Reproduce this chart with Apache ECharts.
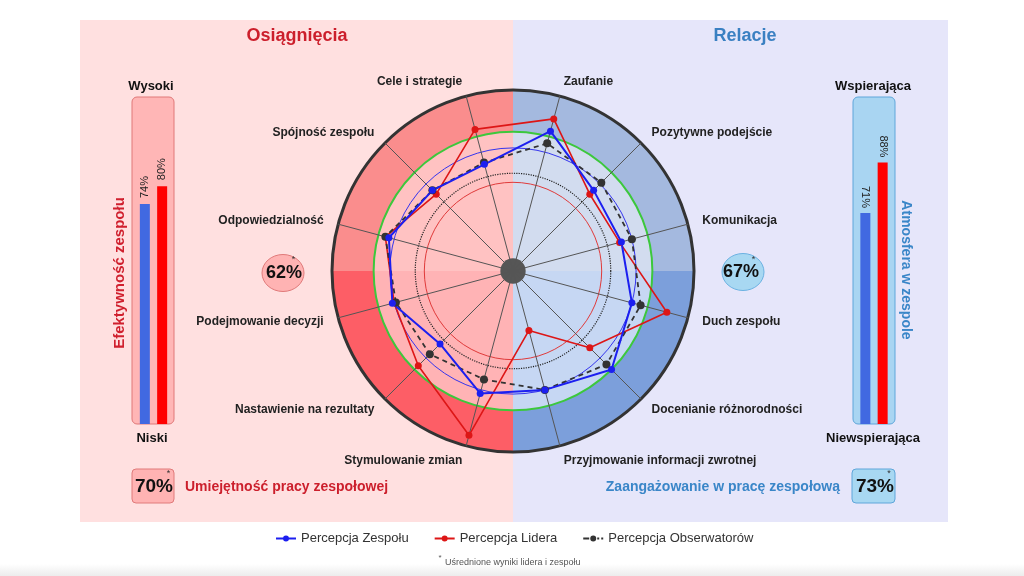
<!DOCTYPE html>
<html><head><meta charset="utf-8">
<script src="https://cdn.jsdelivr.net/npm/echarts@6/dist/echarts.min.js"></script>
<style>html,body{margin:0;padding:0;background:#fff;}#c{width:1024px;height:576px;}</style>
</head><body><div id="c"></div>
<script>
// ---------- DATA ----------
const indicatorNames = ['Zaufanie','Cele i strategie','Spójność zespołu','Odpowiedzialność','Podejmowanie decyzji','Nastawienie na rezultaty','Stymulowanie zmian','Przyjmowanie informacji zwrotnej','Docenianie różnorodności','Duch zespołu','Komunikacja','Pozytywne podejście'];
const teamValues     = [80, 61, 63, 71, 69, 57, 70, 68, 77, 68, 62, 63];
const leaderValues   = [87, 81, 60, 73, 68, 74, 94, 34, 60, 88, 61, 60];
const observerValues = [73, 62, 63, 73, 67, 65, 62, 68, 73, 73, 68, 69];
const seriesNames = ['Percepcja Zespołu','Percepcja Lidera','Percepcja Obserwatorów'];
const quadrants = ['Relacje (góra)','Relacje (dół)','Osiągnięcia (dół)','Osiągnięcia (góra)'];
const innerZone = [77, 77, 77, 77];
const outerZone = [23, 23, 23, 23];
const hubValues = [7, 7, 7, 7];
const greenRing = 77, teamRing = 68, observerRing = 54, leaderRing = 49;
const effectivenessValues = [74, 80];
const atmosphereValues = [71, 88];
const badgeValues = ['62%', '67%', '70%', '73%'];

// ---------- STYLE ----------
const FONT = 'Liberation Sans, Arial, sans-serif';
const CX = 513, CY = 271, R = 181;
const innerColors = ['#d2dcef', '#c6d7f3', '#ffb3b5', '#ffc2c2'];
const outerColors = ['#a4b9df', '#7c9fdb', '#fd5e66', '#fa8d8d'];
const BLUE = '#1c1ff0', RED = '#dd1616', DARK = '#333333';

function ringColors(rings) {
  const arr = [];
  for (let i = 0; i <= 100; i++) arr.push('rgba(0,0,0,0)');
  rings.forEach(function (r) { arr[Math.round(r[0])] = r[1]; });
  return arr;
}
function ringRadar(rings, lineStyle) {
  return {
    center: [CX, CY], radius: R, startAngle: 75, shape: 'circle', splitNumber: 100,
    indicator: indicatorNames.map(function () { return { name: '', min: 0, max: 100 }; }),
    axisName: { show: false }, axisLine: { show: false }, axisTick: { show: false }, axisLabel: { show: false },
    splitArea: { show: false },
    splitLine: { show: true, lineStyle: Object.assign({ color: ringColors(rings) }, lineStyle) },
    z: 2
  };
}
const iconSolid = 'path://M0,2h20v2h-20z M10,0a3,3,0,1,1,-0.001,0z';
const iconDash = 'path://M0,2h6v2h-6z M10,0a3,3,0,1,1,-0.001,0z M14,2h2v2h-2z M18,2h2v2h-2z';

const leftLabel = { show: true, position: 'top', rotate: 90, align: 'left', verticalAlign: 'middle', distance: 6, formatter: '{c}%', fontSize: 11, color: '#222', fontFamily: FONT };
const rightLabel = { show: true, position: 'top', rotate: -90, align: 'right', verticalAlign: 'middle', distance: 5, formatter: '{c}%', fontSize: 11, color: '#222', fontFamily: FONT };

const chart = echarts.init(document.getElementById('c'), null, { width: 1024, height: 576 });
const option = {
  backgroundColor: '#ffffff',
  animation: false,
  textStyle: { fontFamily: FONT },
  polar: { center: [CX, CY], radius: R },
  angleAxis: {
    type: 'category', data: quadrants, startAngle: 90, clockwise: true, boundaryGap: true,
    axisLine: { show: true, lineStyle: { color: '#333', width: 3 } },
    axisTick: { show: false }, axisLabel: { show: false }, splitLine: { show: false }, z: 2
  },
  radiusAxis: { type: 'value', min: 0, max: 100, show: false },
  radar: [
    {
      center: [CX, CY], radius: R, startAngle: 75, shape: 'circle', splitNumber: 4,
      indicator: indicatorNames.map(function (n) { return { name: n, min: 0, max: 100 }; }),
      nameGap: 15,
      axisName: { color: '#222', fontSize: 12, fontWeight: 'bold', fontFamily: FONT },
      axisLine: { show: true, lineStyle: { color: '#555', width: 1 } },
      splitLine: { show: false }, splitArea: { show: false }, z: 2
    },
    ringRadar([[greenRing, '#3cc83c']], { width: 2 }),
    ringRadar([[teamRing, '#3535ee'], [leaderRing, '#e03a3a']], { width: 1 }),
    ringRadar([[observerRing, '#222']], { width: 1.2, type: 'dotted' })
  ],
  grid: [
    { left: 132.5, top: 97, width: 42, height: 327 },
    { left: 853, top: 97, width: 42, height: 327 }
  ],
  xAxis: [
    { type: 'category', gridIndex: 0, data: ['Efektywność zespołu'], show: false },
    { type: 'category', gridIndex: 1, data: ['Atmosfera w zespole'], show: false }
  ],
  yAxis: [
    { type: 'value', gridIndex: 0, min: 0, max: 110, show: false },
    { type: 'value', gridIndex: 1, min: 0, max: 110, show: false }
  ],
  legend: {
    left: 271, top: 527, itemWidth: 20, itemHeight: 6, itemGap: 26, selectedMode: false,
    textStyle: { fontSize: 13, color: '#333', fontFamily: FONT },
    itemStyle: { borderWidth: 0 },
    data: [
      { name: seriesNames[0], icon: iconSolid },
      { name: seriesNames[1], icon: iconSolid },
      { name: seriesNames[2], icon: iconDash }
    ]
  },
  series: [
    { type: 'bar', coordinateSystem: 'polar', stack: 'zone', barCategoryGap: '0%', barGap: '-100%', silent: true, z: 0,
      data: innerZone.map(function (v, i) { return { value: v, itemStyle: { color: innerColors[i] } }; }) },
    { type: 'bar', coordinateSystem: 'polar', stack: 'zone', barCategoryGap: '0%', barGap: '-100%', silent: true, z: 0,
      data: outerZone.map(function (v, i) { return { value: v, itemStyle: { color: outerColors[i] } }; }) },
    { type: 'bar', coordinateSystem: 'polar', barCategoryGap: '0%', barGap: '-100%', silent: true, z: 1,
      itemStyle: { color: '#565656' }, data: hubValues },

    { type: 'radar', radarIndex: 0, name: seriesNames[1], z: 4, symbol: 'circle', symbolSize: 7,
      itemStyle: { color: RED }, lineStyle: { color: RED, width: 1.6 },
      data: [{ name: seriesNames[1], value: leaderValues }] },
    { type: 'radar', radarIndex: 0, name: seriesNames[2], z: 4, symbol: 'circle', symbolSize: 8,
      itemStyle: { color: DARK }, lineStyle: { color: DARK, width: 1.8, type: [5, 4] },
      data: [{ name: seriesNames[2], value: observerValues }] },
    { type: 'radar', radarIndex: 0, name: seriesNames[0], z: 4, symbol: 'circle', symbolSize: 7,
      itemStyle: { color: BLUE }, lineStyle: { color: BLUE, width: 2 },
      data: [{ name: seriesNames[0], value: teamValues }] },

    { type: 'bar', xAxisIndex: 0, yAxisIndex: 0, barWidth: 10, barGap: '73%', z: 3,
      itemStyle: { color: '#4169e1' }, label: leftLabel, data: [effectivenessValues[0]] },
    { type: 'bar', xAxisIndex: 0, yAxisIndex: 0, barWidth: 10, barGap: '73%', z: 3,
      itemStyle: { color: '#ff0000' }, label: leftLabel, data: [effectivenessValues[1]] },
    { type: 'bar', xAxisIndex: 1, yAxisIndex: 1, barWidth: 10, barGap: '73%', z: 3,
      itemStyle: { color: '#4169e1' }, label: rightLabel, data: [atmosphereValues[0]] },
    { type: 'bar', xAxisIndex: 1, yAxisIndex: 1, barWidth: 10, barGap: '73%', z: 3,
      itemStyle: { color: '#ff0000' }, label: rightLabel, data: [atmosphereValues[1]] }
  ],
  graphic: [
    { type: 'rect', z: -10, silent: true, shape: { x: 80, y: 20, width: 433, height: 502 }, style: { fill: '#ffe0e0' } },
    { type: 'rect', z: -10, silent: true, shape: { x: 513, y: 20, width: 435, height: 502 }, style: { fill: '#e6e6fa' } },
    { type: 'rect', z: -10, silent: true, shape: { x: 0, y: 564, width: 1024, height: 12 },
      style: { fill: new echarts.graphic.LinearGradient(0, 0, 0, 1, [{ offset: 0, color: '#ffffff' }, { offset: 1, color: '#ececec' }]) } },

    { type: 'text', z: 5, x: 297, y: 36, style: { text: 'Osiągnięcia', fill: '#cc1f2c', font: 'bold 18px ' + FONT, align: 'center', verticalAlign: 'middle' } },
    { type: 'text', z: 5, x: 745, y: 36, style: { text: 'Relacje', fill: '#3a80c2', font: 'bold 18px ' + FONT, align: 'center', verticalAlign: 'middle' } },

    // bar boxes
    { type: 'rect', z: 1, shape: { x: 132, y: 97, width: 42, height: 327, r: 5 }, style: { fill: '#ffb6b6', stroke: '#e07878', lineWidth: 1 } },
    { type: 'rect', z: 1, shape: { x: 853, y: 97, width: 42, height: 327, r: 5 }, style: { fill: '#a9d5f2', stroke: '#5fa6da', lineWidth: 1 } },
    { type: 'text', z: 5, x: 151, y: 86, style: { text: 'Wysoki', fill: '#111', font: 'bold 13px ' + FONT, align: 'center', verticalAlign: 'middle' } },
    { type: 'text', z: 5, x: 152, y: 438, style: { text: 'Niski', fill: '#111', font: 'bold 13px ' + FONT, align: 'center', verticalAlign: 'middle' } },
    { type: 'text', z: 5, x: 873, y: 86, style: { text: 'Wspierająca', fill: '#111', font: 'bold 13px ' + FONT, align: 'center', verticalAlign: 'middle' } },
    { type: 'text', z: 5, x: 873, y: 438, style: { text: 'Niewspierająca', fill: '#111', font: 'bold 13px ' + FONT, align: 'center', verticalAlign: 'middle' } },
    { type: 'text', z: 5, x: 120, y: 273, rotation: Math.PI / 2, style: { text: 'Efektywność zespołu', fill: '#d0202e', font: 'bold 15px ' + FONT, align: 'center', verticalAlign: 'middle' } },
    { type: 'text', z: 5, x: 906, y: 270, rotation: -Math.PI / 2, style: { text: 'Atmosfera w zespole', fill: '#3a86c8', font: 'bold 14px ' + FONT, align: 'center', verticalAlign: 'middle' } },

    // badges
    { type: 'ellipse', z: 3, shape: { cx: 283, cy: 273, rx: 21, ry: 18.5 }, style: { fill: '#ffb3b3', stroke: '#e07a7a', lineWidth: 1 } },
    { type: 'text', z: 5, x: 284, y: 273, style: { text: badgeValues[0], fill: '#111', font: 'bold 18px ' + FONT, align: 'center', verticalAlign: 'middle' } },
    { type: 'text', z: 5, x: 293.5, y: 260, style: { text: '*', fill: '#333', font: '9px ' + FONT, align: 'center', verticalAlign: 'middle' } },
    { type: 'ellipse', z: 3, shape: { cx: 743, cy: 272, rx: 21, ry: 18.5 }, style: { fill: '#a8d8f2', stroke: '#6cb2e2', lineWidth: 1 } },
    { type: 'text', z: 5, x: 741, y: 272, style: { text: badgeValues[1], fill: '#111', font: 'bold 18px ' + FONT, align: 'center', verticalAlign: 'middle' } },
    { type: 'text', z: 5, x: 753.5, y: 260, style: { text: '*', fill: '#333', font: '9px ' + FONT, align: 'center', verticalAlign: 'middle' } },

    { type: 'rect', z: 3, shape: { x: 132, y: 469, width: 42, height: 34, r: 4 }, style: { fill: '#ffb3b3', stroke: '#e07a7a', lineWidth: 1 } },
    { type: 'text', z: 5, x: 154, y: 486.5, style: { text: badgeValues[2], fill: '#111', font: 'bold 19px ' + FONT, align: 'center', verticalAlign: 'middle' } },
    { type: 'text', z: 5, x: 168.5, y: 474, style: { text: '*', fill: '#333', font: '9px ' + FONT, align: 'center', verticalAlign: 'middle' } },
    { type: 'text', z: 5, x: 185, y: 487, style: { text: 'Umiejętność pracy zespołowej', fill: '#cc1f2c', font: 'bold 14px ' + FONT, align: 'left', verticalAlign: 'middle' } },

    { type: 'rect', z: 3, shape: { x: 852, y: 469, width: 43, height: 34, r: 4 }, style: { fill: '#a8d8f2', stroke: '#5fa6da', lineWidth: 1 } },
    { type: 'text', z: 5, x: 875, y: 486.5, style: { text: badgeValues[3], fill: '#111', font: 'bold 19px ' + FONT, align: 'center', verticalAlign: 'middle' } },
    { type: 'text', z: 5, x: 889, y: 474, style: { text: '*', fill: '#333', font: '9px ' + FONT, align: 'center', verticalAlign: 'middle' } },
    { type: 'text', z: 5, x: 840, y: 487, style: { text: 'Zaangażowanie w pracę zespołową', fill: '#3a86c8', font: 'bold 14px ' + FONT, align: 'right', verticalAlign: 'middle' } },

    // footnote
    { type: 'text', z: 5, x: 440, y: 558, style: { text: '*', fill: '#555', font: '8px ' + FONT, align: 'center', verticalAlign: 'middle' } },
    { type: 'text', z: 5, x: 445, y: 563, style: { text: 'Uśrednione wyniki lidera i zespołu', fill: '#555', font: '9px ' + FONT, align: 'left', verticalAlign: 'middle' } }
  ]
};
chart.setOption(option);
</script>
</body></html>
